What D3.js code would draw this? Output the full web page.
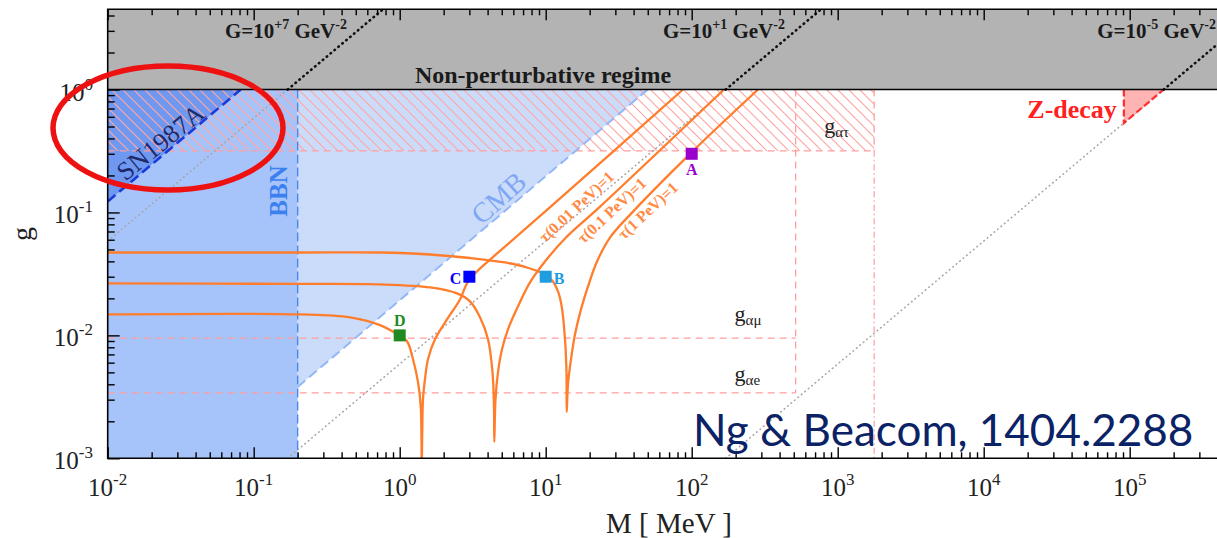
<!DOCTYPE html>
<html lang="en">
<head>
<meta charset="UTF-8">
<title>Secret neutrino interactions - Ng &amp; Beacom</title>
<script src="https://d3js.org/d3.v7.min.js"></script>
<style>
  body { margin: 0; background: #fff; }
  svg { display: block; }
</style>
</head>
<body>
<div id="chart"></div>
<script>
// ---- data (M in MeV, g dimensionless) ----
const xTickExps = [-2, -1, 0, 1, 2, 3, 4, 5];
const yTickExps = [-3, -2, -1, 0];

// constant-G lines: label exponent and the mass where each crosses g = 1
const gLineExps = ["+7", "+1", "-5"];
const gLineMassAtUnity = [0.171, 171, 171000];

// excluded regions
const bbnMass = 0.2;
const cmbBoundary = [[0.2, 0.0038], [50, 1]];
const snBoundary = [[0.01, 0.1227], [0.0815, 1]];
const zDecayBoundary = [[91188, 1], [171000, 1], [91188, 0.533]];

// flavour coupling limits
const couplingNames = ["ατ", "αμ", "αe"];
const couplingMinG = [0.317, 0.0095, 0.0034];
const couplingMaxM = [1777, 515, 515];

// benchmark points
const benchNames = ["A", "B", "C", "D"];
const benchM = [100, 10, 3, 1];
const benchG = [0.3, 0.03, 0.03, 0.01];

// tau = 1 curves
const tauLabels = ["τ(0.01 PeV)=1", "τ(0.1 PeV)=1", "τ(1 PeV)=1"];
const curveTau001 = [[0.01,0.0148],[0.2075,0.0148],[0.4566,0.0140],[0.733,0.0121],[0.989,0.0100],[1.122,0.00896],
  [1.233,0.0064],[1.335,0.00417],[1.393,0.00266],[1.410,0.00144],[1.415,0.00082],[1.428,0.00173],[1.444,0.00303],
  [1.490,0.0044],[1.562,0.0064],[1.745,0.0093],[2.109,0.0135],[2.588,0.0196],[2.891,0.0265],[3.384,0.0331],
  [4.566,0.0455],[11.22,0.1157],[87.2,1.0]];
const curveTau01 = [[0.01,0.02646],[0.2075,0.02622],[0.733,0.02597],[1.613,0.02455],[2.469,0.02195],[3.030,0.0189],
  [3.548,0.01402],[4.026,0.0093],[4.321,0.00502],[4.425,0.002516],[4.446,0.001358],[4.531,0.00303],[4.713,0.00502],
  [5.020,0.00771],[5.518,0.01121],[6.462,0.01722],[7.806,0.02696],[9.890,0.0399],[13.77,0.06246],[23.18,0.1094],
  [166.4,1.0]];
const curveTau1 = [[0.01,0.0472],[0.2075,0.0472],[0.733,0.0472],[1.613,0.04547],[3.030,0.04259],[5.262,0.03917],
  [7.444,0.03567],[9.890,0.0313],[11.22,0.02747],[12.14,0.02279],[12.87,0.01722],[13.56,0.0093],[13.88,0.00502],
  [13.93,0.002378],[14.21,0.004012],[14.91,0.0064],[15.88,0.01021],[17.45,0.01628],[19.49,0.02502],[22.46,0.0399],
  [27.56,0.06246],[39.62,0.1016],[97.4,0.2998],[284.6,1.0]];

// ---- layout ----
const W = 1217, H = 538;
const LEFT = 107.7, TOP = 9.3, BOTTOM = 458.3;
const DEC_X = 146, DEC_Y = 122.93;
const SERIF = "'Liberation Serif', 'Times New Roman', serif";

const x = d3.scaleLog().domain([1e-2, 1e6]).range([LEFT, LEFT + 8 * DEC_X]);
const gMax = Math.pow(10, (BOTTOM - TOP) / DEC_Y - 3);
const y = d3.scaleLog().domain([1e-3, gMax]).range([BOTTOM, TOP]);

const svg = d3.select("#chart").append("svg").attr("width", W).attr("height", H);
svg.append("rect").attr("width", W).attr("height", H).attr("fill", "#fff");

const defs = svg.append("defs");
defs.append("clipPath").attr("id", "plotclip").append("rect")
  .attr("x", LEFT).attr("y", TOP).attr("width", W - LEFT).attr("height", BOTTOM - TOP);
const hatch = defs.append("pattern").attr("id", "hatch").attr("patternUnits", "userSpaceOnUse")
  .attr("width", 11).attr("height", 11);
hatch.append("path").attr("d", "M0,0 L11,11 M-2,9 L2,13 M9,-2 L13,2")
  .attr("stroke", "#ffa5a5").attr("stroke-width", 1.2);

const g = svg.append("g").attr("clip-path", "url(#plotclip)");
const pt = d => [x(d[0]), y(d[1])];
const poly = pts => "M" + pts.map(p => pt(p).join(",")).join("L") + "Z";

// blue exclusion regions
g.append("rect").attr("x", x(1e-2)).attr("y", y(1)).attr("width", x(bbnMass) - x(1e-2))
  .attr("height", y(1e-3) - y(1)).attr("fill", "#a7c4fa");
g.append("path").attr("d", poly([cmbBoundary[0], cmbBoundary[1], [bbnMass, 1]])).attr("fill", "#cbdcfb");
g.append("path").attr("d", poly([snBoundary[0], snBoundary[1], [1e-2, 1]])).attr("fill", "#6f98f1");

// hatched g_alpha-tau region
g.append("rect").attr("x", x(1e-2)).attr("y", y(1)).attr("width", x(couplingMaxM[0]) - x(1e-2))
  .attr("height", y(couplingMinG[0]) - y(1)).attr("fill", "url(#hatch)");

// coupling limit boundaries
const pink = "#ff9d9d";
couplingMinG.forEach((gv, i) => {
  g.append("line").attr("x1", x(1e-2)).attr("x2", x(couplingMaxM[i])).attr("y1", y(gv)).attr("y2", y(gv))
    .attr("stroke", pink).attr("stroke-width", 1.3).attr("stroke-dasharray", "7,5");
});
g.append("line").attr("x1", x(couplingMaxM[1])).attr("x2", x(couplingMaxM[1]))
  .attr("y1", y(1)).attr("y2", y(couplingMinG[2]))
  .attr("stroke", pink).attr("stroke-width", 1.3).attr("stroke-dasharray", "7,5");
g.append("line").attr("x1", x(couplingMaxM[0])).attr("x2", x(couplingMaxM[0]))
  .attr("y1", y(1)).attr("y2", y(couplingMinG[0]))
  .attr("stroke", pink).attr("stroke-width", 1.3).attr("stroke-dasharray", "7,5");
g.append("line").attr("x1", x(couplingMaxM[0])).attr("x2", x(couplingMaxM[0]))
  .attr("y1", y(couplingMinG[0])).attr("y2", y(1e-3))
  .attr("stroke", pink).attr("stroke-width", 1.2).attr("stroke-dasharray", "6,3,1.5,3");

// constant-G lines below g = 1 (grey dotted)
gLineMassAtUnity.forEach(m1 => {
  g.append("line").attr("x1", x(m1 * 1e-3)).attr("y1", y(1e-3)).attr("x2", x(m1)).attr("y2", y(1))
    .attr("stroke", "#a5a5a5").attr("stroke-width", 1.6).attr("stroke-linecap", "round")
    .attr("stroke-dasharray", "0.5,4");
});

// region boundaries (blue dashed)
g.append("line").attr("x1", x(bbnMass)).attr("x2", x(bbnMass)).attr("y1", y(1)).attr("y2", y(1e-3))
  .attr("stroke", "#4a86f0").attr("stroke-width", 1.4).attr("stroke-dasharray", "9,4");
g.append("line").attr("x1", x(cmbBoundary[0][0])).attr("y1", y(cmbBoundary[0][1]))
  .attr("x2", x(cmbBoundary[1][0])).attr("y2", y(cmbBoundary[1][1]))
  .attr("stroke", "#94b7f7").attr("stroke-width", 2).attr("stroke-dasharray", "10,5");
g.append("line").attr("x1", x(snBoundary[0][0])).attr("y1", y(snBoundary[0][1]))
  .attr("x2", x(snBoundary[1][0])).attr("y2", y(snBoundary[1][1]))
  .attr("stroke", "#1a3bd9").attr("stroke-width", 2.6).attr("stroke-dasharray", "10,5");

// Z-decay
g.append("path").attr("d", poly(zDecayBoundary)).attr("fill", "#ffb4b4");
g.append("path")
  .attr("d", "M" + pt(zDecayBoundary[0]).join(",") + "L" + pt(zDecayBoundary[2]).join(",") + "L" + pt(zDecayBoundary[1]).join(","))
  .attr("fill", "none").attr("stroke", "#ff2d2d").attr("stroke-width", 2.2).attr("stroke-dasharray", "7,3");

// tau = 1 curves
const line = d3.line().x(d => x(d[0])).y(d => y(d[1])).curve(d3.curveCatmullRom.alpha(0.5));
[curveTau001, curveTau01, curveTau1].forEach(c => {
  g.append("path").datum(c).attr("d", line).attr("fill", "none")
    .attr("stroke", "#ff7d2b").attr("stroke-width", 2.3);
});

// benchmark points
const benchColors = ["#9a00cc", "#1f9de0", "#0000ff", "#1f8a1f"];
const benchLabelOffset = [[0, 21, "middle"], [8, 7, "start"], [-8, 7, "end"], [0, -9, "middle"]];
benchNames.forEach((n, i) => {
  const cx = x(benchM[i]), cy = y(benchG[i]);
  g.append("rect").attr("x", cx - 6).attr("y", cy - 6).attr("width", 12).attr("height", 12)
    .attr("fill", benchColors[i]);
  g.append("text").attr("x", cx + benchLabelOffset[i][0]).attr("y", cy + benchLabelOffset[i][1])
    .attr("text-anchor", benchLabelOffset[i][2]).attr("font-family", SERIF).attr("font-weight", "bold")
    .attr("font-size", 16).attr("fill", benchColors[i]).text(n);
});

// non-perturbative regime (g > 1)
g.append("rect").attr("x", LEFT).attr("y", TOP).attr("width", W - LEFT).attr("height", y(1) - TOP)
  .attr("fill", "#b3b3b3");
gLineMassAtUnity.forEach(m1 => {
  g.append("line").attr("x1", x(m1)).attr("y1", y(1)).attr("x2", x(m1 * gMax)).attr("y2", y(gMax))
    .attr("stroke", "#111").attr("stroke-width", 2.6).attr("stroke-linecap", "round")
    .attr("stroke-dasharray", "0.5,4.6");
});
svg.append("line").attr("x1", LEFT).attr("x2", W).attr("y1", y(1)).attr("y2", y(1))
  .attr("stroke", "#000").attr("stroke-width", 1.6);

// ---- axes (inward ticks) ----
const xMajor = xTickExps.map(k => Math.pow(10, k));
const xMinor = [];
xTickExps.forEach(k => { for (let m = 2; m <= 9; m++) xMinor.push(m * Math.pow(10, k)); });
const yMajor = yTickExps.map(k => Math.pow(10, k));
const yMinor = [];
yTickExps.forEach(k => { for (let m = 2; m <= 9; m++) { const v = m * Math.pow(10, k); if (v < gMax) yMinor.push(v); } });

function addAxis(axisFn, scale, values, size, transform) {
  const a = svg.append("g").attr("transform", transform)
    .call(axisFn(scale).tickValues(values).tickSize(-size).tickFormat(""));
  a.select(".domain").remove();
  a.selectAll("line").attr("stroke", "#000").attr("stroke-width", 1.4);
}
addAxis(d3.axisBottom, x, xMajor, 11, `translate(0,${BOTTOM})`);
addAxis(d3.axisBottom, x, xMinor, 6, `translate(0,${BOTTOM})`);
addAxis(d3.axisTop, x, xMajor, 11, `translate(0,${TOP})`);
addAxis(d3.axisTop, x, xMinor, 6, `translate(0,${TOP})`);
addAxis(d3.axisLeft, y, yMajor, 12, `translate(${LEFT},0)`);
addAxis(d3.axisLeft, y, yMinor, 7, `translate(${LEFT},0)`);

// frame
svg.append("path").attr("d", `M${W},${TOP}H${LEFT}V${BOTTOM}H${W}`)
  .attr("fill", "none").attr("stroke", "#000").attr("stroke-width", 1.6);

function powText(parent, px, py, anchor, exp) {
  const t = parent.append("text").attr("x", px).attr("y", py).attr("text-anchor", anchor)
    .attr("font-family", SERIF).attr("font-size", 25).attr("fill", "#222");
  t.append("tspan").text("10");
  t.append("tspan").attr("font-size", 17).attr("dy", -11).text(exp);
  return t;
}
xTickExps.forEach(k => powText(svg, x(Math.pow(10, k)), 496, "middle", String(k)));
yTickExps.forEach(k => powText(svg, 93, y(Math.pow(10, k)) + 11, "end", String(k)));

svg.append("text").attr("x", 669).attr("y", 533).attr("text-anchor", "middle")
  .attr("font-family", SERIF).attr("font-size", 29).attr("fill", "#222").text("M [ MeV ]");
svg.append("text").attr("transform", "translate(31,234) rotate(-90)").attr("text-anchor", "middle")
  .attr("font-family", SERIF).attr("font-size", 28).attr("fill", "#222").text("g");

// ---- annotations ----
svg.append("text").attr("x", 543).attr("y", y(1) - 7).attr("text-anchor", "middle")
  .attr("font-family", SERIF).attr("font-weight", "bold").attr("font-size", 24).attr("fill", "#1a1a1a")
  .text("Non-perturbative regime");

gLineExps.forEach((e, i) => {
  const t = svg.append("text").attr("x", Math.min(x(gLineMassAtUnity[i] * gMax) - 36, 1216)).attr("y", 38)
    .attr("text-anchor", "end").attr("font-family", SERIF).attr("font-weight", "bold")
    .attr("font-size", 21).attr("fill", "#1a1a1a");
  t.append("tspan").text("G=10");
  t.append("tspan").attr("font-size", 14).attr("dy", -9).text(e);
  t.append("tspan").attr("dy", 9).text(" GeV");
  t.append("tspan").attr("font-size", 14).attr("dy", -9).text("-2");
});

couplingNames.forEach((n, i) => {
  const px = x(couplingMaxM[i]) - (i === 0 ? 50 : 61);
  const py = y(couplingMinG[i]) - (i === 0 ? 18 : (i === 1 ? 17 : 12));
  const t = svg.append("text").attr("x", px).attr("y", py).attr("font-family", SERIF)
    .attr("font-size", 22).attr("fill", "#222");
  t.append("tspan").text("g");
  t.append("tspan").attr("font-size", 15).attr("dy", 4).text(n);
});

svg.append("text").attr("x", x(zDecayBoundary[0][0]) - 7).attr("y", 118).attr("text-anchor", "end")
  .attr("font-family", SERIF).attr("font-weight", "bold").attr("font-size", 26).attr("fill", "#ff2020")
  .text("Z-decay");

svg.append("text").attr("transform", `translate(${x(bbnMass) - 11},191) rotate(-90)`)
  .attr("text-anchor", "middle").attr("font-family", SERIF).attr("font-weight", "bold")
  .attr("font-size", 25).attr("fill", "#3b7ff0").text("BBN");

svg.append("text").attr("transform", "translate(505,205) rotate(-42)").attr("text-anchor", "middle")
  .attr("font-family", SERIF).attr("font-size", 28).attr("fill", "#7fa7f4").text("CMB");

svg.append("text").attr("transform", "translate(166,149) rotate(-39)").attr("text-anchor", "middle")
  .attr("font-family", SERIF).attr("font-size", 26).attr("fill", "#1d2a6a").text("SN1987A");

// labels sit just below-right of their curve
const tauAnchors = [[15.1, 0.117], [26.3, 0.109], [46.5, 0.109]];
tauLabels.forEach((s, i) => {
  svg.append("text")
    .attr("transform", `translate(${x(tauAnchors[i][0]) + 5},${y(tauAnchors[i][1]) + 3}) rotate(-43)`)
    .attr("text-anchor", "middle").attr("dy", 5).attr("font-family", SERIF).attr("font-weight", "bold")
    .attr("font-size", 16).attr("fill", "#ff8a45").text(s);
});

// highlight ellipse and citation
svg.append("ellipse").attr("cx", 168).attr("cy", 128).attr("rx", 115).attr("ry", 62)
  .attr("fill", "none").attr("stroke", "#ee1111").attr("stroke-width", 5.5);
svg.append("text").attr("x", 693).attr("y", 446).attr("font-family", "Lato, 'DejaVu Sans', sans-serif")
  .attr("font-size", 44).attr("fill", "#0b2266").text("Ng & Beacom, 1404.2288");
</script>
</body>
</html>
